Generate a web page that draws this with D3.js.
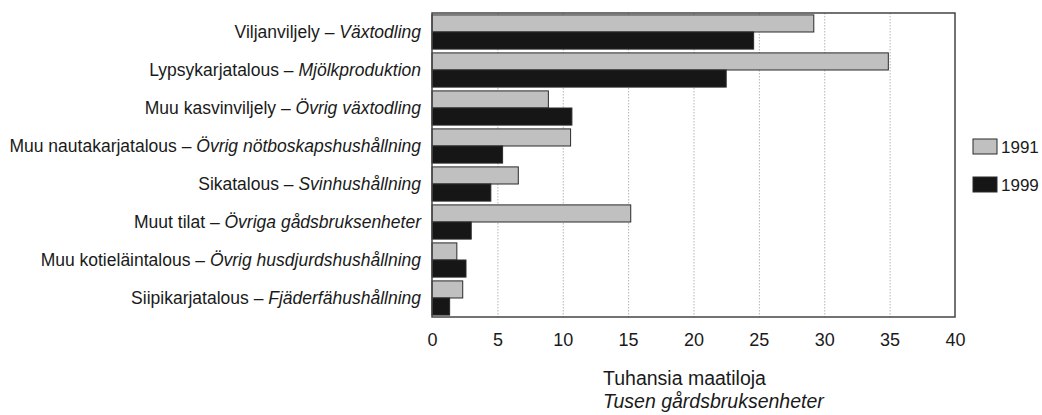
<!DOCTYPE html>
<html>
<head>
<meta charset="utf-8">
<script src="https://cdn.jsdelivr.net/npm/d3@7"></script>
<style>
  body { margin: 0; background: #fff; }
  text { font-family: 'Liberation Sans', Arial, sans-serif; fill: #1a1a1a; }
</style>
</head>
<body>
<div class="canvas"></div>
<script>
// data
const categoriesFi = ['Viljanviljely', 'Lypsykarjatalous', 'Muu kasvinviljely', 'Muu nautakarjatalous',
  'Sikatalous', 'Muut tilat', 'Muu kotieläintalous', 'Siipikarjatalous']
const categoriesSv = ['Växtodling', 'Mjölkproduktion', 'Övrig växtodling', 'Övrig nötboskapshushållning',
  'Svinhushållning', 'Övriga gådsbruksenheter', 'Övrig husdjurdshushållning', 'Fjäderfähushållning']
const years = ['1991', '1999']
const values1991 = [29.2, 34.9, 8.9, 10.6, 6.6, 15.2, 1.9, 2.35]
const values1999 = [24.6, 22.5, 10.7, 5.4, 4.5, 3.0, 2.6, 1.35]
const xTicks = [0, 5, 10, 15, 20, 25, 30, 35, 40]
const axisTitle = ['Tuhansia maatiloja', 'Tusen gårdsbruksenheter']

const svgWidth = 1042, svgHeight = 415
const margin = { top: 13, right: 87, bottom: 98, left: 432 }
const graphWidth = svgWidth - margin.left - margin.right
const graphHeight = svgHeight - margin.top - margin.bottom

const colors = { '1991': '#c0c0c0', '1999': '#161616' }

const svg = d3.select('.canvas')
  .append('svg')
  .attr('width', svgWidth)
  .attr('height', svgHeight)

const graph = svg.append('g')
  .attr('transform', `translate(${margin.left}, ${margin.top})`)

// scales
const x = d3.scaleLinear().domain([0, 40]).range([0, graphWidth])
const y = d3.scaleBand().domain(categoriesFi).range([0, graphHeight])
  .paddingInner(0.1).paddingOuter(0.05)
const ySub = d3.scaleBand().domain(years).range([0, y.bandwidth()])

// grid lines
const grid = graph.append('g')
  .call(d3.axisBottom(x).tickValues(xTicks.slice(1, -1)).tickSize(graphHeight).tickFormat(''))
grid.select('.domain').remove()
grid.selectAll('line')
  .attr('stroke', '#b5b5b5')
  .attr('stroke-dasharray', '1.5,1.5')

// bars
const rows = categoriesFi.map((c, i) => ({ cat: c, vals: { '1991': values1991[i], '1999': values1999[i] } }))

const groups = graph.selectAll('g.row')
  .data(rows)
  .enter()
  .append('g')
  .attr('class', 'row')
  .attr('transform', d => `translate(0, ${y(d.cat)})`)

groups.selectAll('rect')
  .data(d => years.map(yr => ({ yr, v: d.vals[yr] })))
  .enter()
  .append('rect')
  .attr('x', x(0))
  .attr('y', d => ySub(d.yr))
  .attr('width', d => x(d.v))
  .attr('height', ySub.bandwidth())
  .attr('fill', d => colors[d.yr])
  .attr('stroke', '#2a2a2a')
  .attr('stroke-width', 1)

// frame
graph.append('rect')
  .attr('width', graphWidth)
  .attr('height', graphHeight)
  .attr('fill', 'none')
  .attr('stroke', '#444')
  .attr('stroke-width', 1.5)

// x axis labels
const xAxisGroup = graph.append('g')
  .attr('transform', `translate(0, ${graphHeight})`)
  .call(d3.axisBottom(x).tickValues(xTicks).tickSize(0).tickPadding(16))
xAxisGroup.select('.domain').remove()
xAxisGroup.selectAll('text')
  .style('font-family', "'Liberation Sans', Arial, sans-serif")
  .style('font-size', '18px')
  .attr('fill', '#1a1a1a')

// category labels
const labels = graph.selectAll('text.cat')
  .data(rows)
  .enter()
  .append('text')
  .attr('class', 'cat')
  .attr('x', -11)
  .attr('y', d => y(d.cat) + y.bandwidth() / 2)
  .attr('dy', '0.35em')
  .attr('text-anchor', 'end')
  .style('font-size', '17.5px')

labels.append('tspan').text((d, i) => categoriesFi[i] + ' – ')
labels.append('tspan').style('font-style', 'italic').text((d, i) => categoriesSv[i])

// legend
const legend = svg.append('g')
  .attr('transform', `translate(973, ${margin.top + graphHeight / 2})`)

const legendItems = legend.selectAll('g')
  .data(years)
  .enter()
  .append('g')
  .attr('transform', (d, i) => `translate(0, ${i === 0 ? -26 : 12})`)

legendItems.append('rect')
  .attr('width', 24)
  .attr('height', 15)
  .attr('fill', d => colors[d])
  .attr('stroke', '#2a2a2a')

legendItems.append('text')
  .attr('x', 28)
  .attr('y', 8)
  .attr('dy', '0.35em')
  .style('font-size', '17px')
  .text(d => d)

// axis title
svg.selectAll('text.title')
  .data(axisTitle)
  .enter()
  .append('text')
  .attr('class', 'title')
  .attr('x', 603)
  .attr('y', (d, i) => 385 + i * 23)
  .style('font-size', '19.5px')
  .style('font-style', (d, i) => i === 1 ? 'italic' : 'normal')
  .text(d => d)
</script>
</body>
</html>
